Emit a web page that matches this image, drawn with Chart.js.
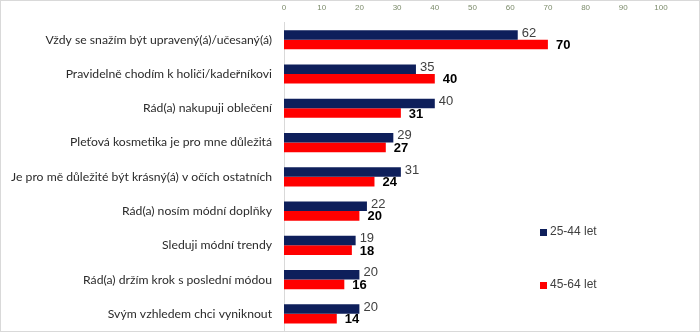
<!DOCTYPE html>
<html>
<head>
<meta charset="utf-8">
<script src="https://cdn.jsdelivr.net/npm/chart.js@4"></script>
<style>
  html, body { margin: 0; padding: 0; background: #fff; }
  #wrap { width: 698px; height: 330px; border: 1px solid #d9d9d9; position: relative; }
  canvas { display: block; }
</style>
</head>
<body>
<div id="wrap"><canvas id="chart" width="698" height="330"></canvas></div>
<script>
var categories = [
    'Vždy se snažím být upravený(á)/učesaný(á)',
    'Pravidelně chodím k holiči/kadeřníkovi',
    'Rád(a) nakupuji oblečení',
    'Pleťová kosmetika je pro mne důležitá',
    'Je pro mě důležité být krásný(á) v očích ostatních',
    'Rád(a) nosím módní doplňky',
    'Sleduji módní trendy',
    'Rád(a) držím krok s poslední módou',
    'Svým vzhledem chci vyniknout'
];
var seriesNames = ['25-44 let', '45-64 let'];
var younger = [62, 35, 40, 29, 31, 22, 19, 20, 20];
var older = [70, 40, 31, 27, 24, 20, 18, 16, 14];
var colors = ['#0e1f5b', '#ff0000'];

var LABEL_FONT = 'Lato, "Noto Sans", sans-serif';
var NUM_FONT = '"Liberation Sans", Arial, sans-serif';

// value labels next to the bar ends
var valueLabels = {
    id: 'valueLabels',
    afterDatasetsDraw: function (chart) {
        var ctx = chart.ctx;
        ctx.save();
        ctx.textBaseline = 'middle';
        ctx.textAlign = 'left';
        chart.data.datasets.forEach(function (ds, i) {
            var meta = chart.getDatasetMeta(i);
            meta.data.forEach(function (bar, j) {
                if (i === 0) {
                    ctx.font = '13px ' + NUM_FONT;
                    ctx.fillStyle = '#404040';
                    ctx.fillText(ds.data[j], bar.x + 4, bar.y - 2);
                } else {
                    ctx.font = 'bold 13px ' + NUM_FONT;
                    ctx.fillStyle = '#000';
                    ctx.fillText(ds.data[j], bar.x + 8, bar.y + 1);
                }
            });
        });
        ctx.restore();
    }
};

// legend stacked inside the plot on the right
var sideLegend = {
    id: 'sideLegend',
    afterDraw: function (chart) {
        var ctx = chart.ctx;
        var rows = [231, 284];
        ctx.save();
        ctx.font = '12px ' + NUM_FONT;
        ctx.textBaseline = 'middle';
        ctx.textAlign = 'left';
        seriesNames.forEach(function (name, i) {
            ctx.fillStyle = colors[i];
            ctx.fillRect(539, rows[i] - 3, 7, 7);
            ctx.fillStyle = '#404040';
            ctx.fillText(name, 549, rows[i]);
        });
        ctx.restore();
    }
};

new Chart(document.getElementById('chart'), {
    type: 'bar',
    data: {
        labels: categories,
        datasets: [
            { label: seriesNames[0], data: younger, backgroundColor: colors[0] },
            { label: seriesNames[1], data: older, backgroundColor: colors[1] }
        ]
    },
    options: {
        indexAxis: 'y',
        responsive: false,
        animation: false,
        layout: { padding: { top: 0, right: 38, bottom: 0, left: 0 } },
        datasets: { bar: { categoryPercentage: 0.56, barPercentage: 1 } },
        scales: {
            x: {
                position: 'top',
                min: 0,
                max: 100,
                grid: { display: false },
                border: { display: false },
                ticks: {
                    stepSize: 10,
                    padding: 2,
                    color: '#7d8c6c',
                    font: { family: NUM_FONT, size: 8 }
                }
            },
            y: {
                grid: { display: false },
                border: { color: '#d9d9d9' },
                afterFit: function (scale) {
                    scale.width = 283;
                    scale.paddingTop = 0;
                    scale.paddingBottom = 0;
                },
                ticks: {
                    padding: 4,
                    color: '#2b2b2b',
                    font: { family: LABEL_FONT, size: 12.2 }
                }
            }
        },
        plugins: {
            legend: { display: false },
            tooltip: { enabled: false }
        }
    },
    plugins: [valueLabels, sideLegend]
});
</script>
</body>
</html>
